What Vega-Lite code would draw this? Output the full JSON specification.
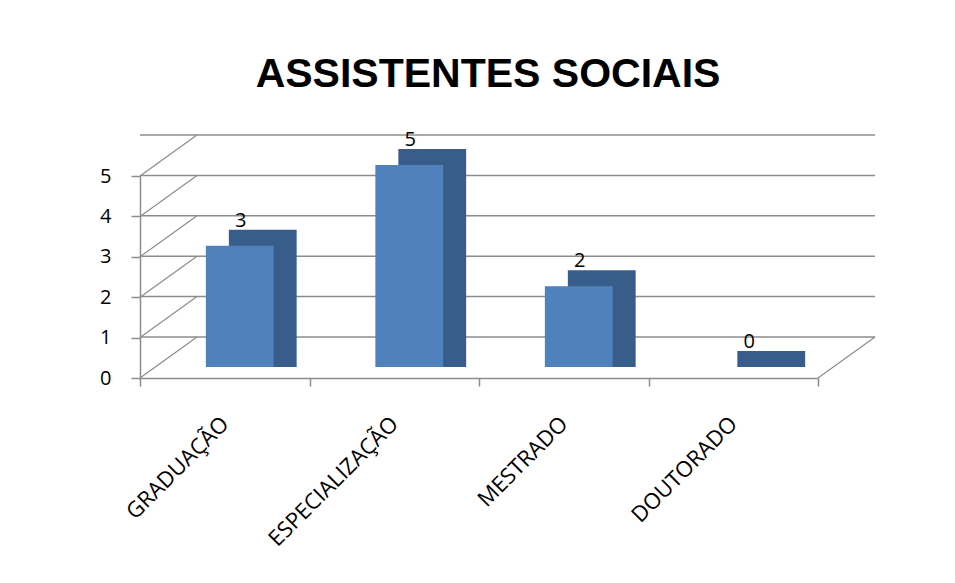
{
  "$schema": "https://vega.github.io/schema/vega-lite/v6.json",
  "autosize": "none",
  "width": 678,
  "height": 202,
  "padding": {"left": 140, "top": 176, "right": 137, "bottom": 205},
  "background": "white",
  "config": {"view": {"stroke": null}, "font": "Open Sans"},
  "title": {
    "text": "ASSISTENTES SOCIAIS",
    "font": "Liberation Sans",
    "fontSize": 41,
    "fontWeight": "bold",
    "color": "black",
    "anchor": "middle",
    "offset": 34,
    "dx": 9
  },
  "datasets": {
    "grid": [{"v": 0}, {"v": 1}, {"v": 2}, {"v": 3}, {"v": 4}, {"v": 5}],
    "main": [
      {"nivel": "GRADUAÇÃO", "total": 3},
      {"nivel": "ESPECIALIZAÇÃO", "total": 5},
      {"nivel": "MESTRADO", "total": 2},
      {"nivel": "DOUTORADO", "total": 0}
    ]
  },
  "layer": [
    {
      "data": {"name": "grid"},
      "mark": {"type": "rule", "color": "#8c8c8c", "strokeWidth": 1.5, "xOffset": 57, "x2Offset": 57, "yOffset": -41, "y2Offset": -41},
      "encoding": {
        "y": {
          "field": "v", "type": "quantitative", "scale": {"domain": [0, 5], "nice": false},
          "axis": {
            "title": null, "values": [0, 1, 2, 3, 4, 5], "labelFontSize": 20, "labelColor": "black",
            "grid": false, "domainColor": "#8c8c8c", "domainWidth": 1.5, "tickColor": "#8c8c8c", "tickWidth": 1.5,
            "tickSize": 9, "labelPadding": 20
          }
        }
      }
    },
    {
      "data": {"name": "grid"},
      "mark": {"type": "rule", "color": "#8c8c8c", "strokeWidth": 1.2, "x2Offset": 57, "y2Offset": -41},
      "encoding": {
        "x": {"value": 0},
        "x2": {"value": 0},
        "y": {"field": "v", "type": "quantitative"},
        "y2": {"field": "v"}
      }
    },
    {
      "data": {"values": [{"v": 0}]},
      "mark": {"type": "rule", "color": "#8c8c8c", "strokeWidth": 1.2, "x2Offset": 57, "y2Offset": -41},
      "encoding": {
        "x": {"value": "width"},
        "x2": {"value": "width"},
        "y": {"field": "v", "type": "quantitative"},
        "y2": {"field": "v"}
      }
    },
    {
      "data": {"name": "main"},
      "mark": {"type": "bar", "color": "#385d8a", "width": {"band": 0.4}, "xOffset": 38, "yOffset": -27, "y2Offset": -11},
      "encoding": {
        "x": {"field": "nivel", "type": "nominal", "sort": null, "scale": {"paddingInner": 0, "paddingOuter": 0}},
        "y": {"field": "total", "type": "quantitative", "stack": null},
        "y2": {"datum": 0}
      }
    },
    {
      "data": {"name": "main"},
      "mark": {"type": "bar", "color": "#4f81bd", "width": {"band": 0.4}, "xOffset": 15, "yOffset": -11, "y2Offset": -11},
      "encoding": {
        "x": {
          "field": "nivel", "type": "nominal", "sort": null,
          "axis": {
            "title": null, "labelAngle": -45, "labelAlign": "right", "labelBaseline": "middle",
            "labelFontSize": 22, "labelColor": "black", "labelPadding": 34, "tickBand": "extent",
            "domainColor": "#8c8c8c", "domainWidth": 1.5, "tickColor": "#8c8c8c", "tickWidth": 1.5, "tickSize": 8, "grid": false
          }
        },
        "y": {"field": "total", "type": "quantitative", "stack": null},
        "y2": {"datum": 0}
      }
    },
    {
      "data": {"name": "main"},
      "mark": {"type": "text", "fontSize": 20, "color": "black", "baseline": "bottom", "xOffset": 16, "yOffset": -26},
      "encoding": {
        "x": {"field": "nivel", "type": "nominal", "sort": null},
        "y": {"field": "total", "type": "quantitative"},
        "text": {"field": "total", "type": "quantitative"}
      }
    }
  ]
}
